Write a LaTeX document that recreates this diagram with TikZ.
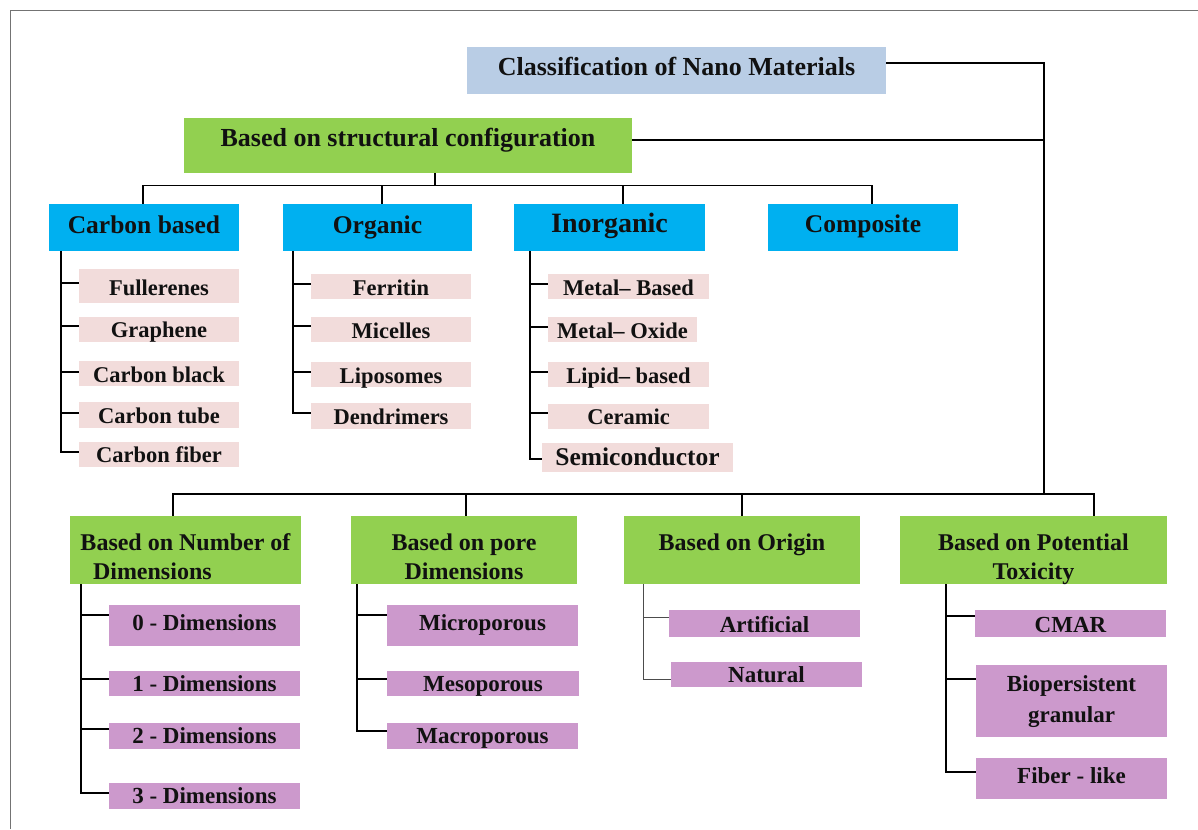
\documentclass[tikz,border=0pt]{standalone}
\usepackage{fontspec}
\setmainfont{Liberation Serif}
\definecolor{ctitle}{HTML}{B9CDE5}
\definecolor{cgreen}{HTML}{92D050}
\definecolor{ccyan}{HTML}{00B0F0}
\definecolor{cpink}{HTML}{F2DCDB}
\definecolor{cpurple}{HTML}{CC99CC}
\definecolor{ctext}{HTML}{111111}
\newcommand\mybox[8]{%
  \pgfmathsetmacro\bxw{#5-#3}%
  \pgfmathsetmacro\bxh{#6-#4}%
  \pgfmathsetmacro\bxcx{(#3+#5)/2}%
  \pgfmathsetmacro\bxcy{(#4+#6)/2}%
  \pgfmathsetmacro\bxr{\bxcy-#7}%
  \node[#2, minimum width=\bxw pt, minimum height=\bxh pt, inner sep=0pt] (#1) at (\bxcx,\bxcy)
    {\raisebox{\bxr pt}[0pt][0pt]{\parbox[b]{\bxw pt}{\centering #8}}};%
}
\begin{document}
\begin{tikzpicture}[x=1pt,y=-1pt,
  basebox/.style={rectangle, draw=none, text=ctext},
  titlebox/.style={basebox, fill=ctitle, font=\bfseries\fontsize{26}{30}\selectfont},
  structbox/.style={basebox, fill=cgreen, font=\bfseries\fontsize{26}{30}\selectfont},
  catbox/.style={basebox, fill=ccyan, font=\bfseries\fontsize{25.5}{30}\selectfont},
  bigcatbox/.style={catbox, font=\bfseries\fontsize{28}{32}\selectfont},
  pinkbox/.style={basebox, fill=cpink, font=\bfseries\fontsize{22.5}{27}\selectfont},
  bigpinkbox/.style={pinkbox, font=\bfseries\fontsize{25.5}{30}\selectfont},
  basisbox/.style={basebox, fill=cgreen, font=\bfseries\fontsize{24}{29}\selectfont},
  purplebox/.style={basebox, fill=cpurple, font=\bfseries\fontsize{23}{31}\selectfont},
  mainline/.style={line width=1.8pt, black},
  busline/.style={line width=1.2pt, black},
  childline/.style={line width=1.8pt, black},
  thinline/.style={line width=1pt, black!70},
  frameline/.style={line width=1pt, black!55}
]
\useasboundingbox (0,0) rectangle (1198,829);
\draw[frameline] (10,829) -- (10,11) -- (1198,11);

% top level
\mybox{title}{titlebox}{467}{47}{886}{94}{76}{Classification of Nano Materials}
\mybox{struct}{structbox}{184}{118}{632}{173}{147}{Based on structural configuration}

% structural categories
\mybox{cb}{catbox}{49}{204}{239}{251}{233}{Carbon based}
\mybox{org}{catbox}{283}{204}{472}{251}{233}{Organic}
\mybox{inorg}{bigcatbox}{514}{204}{705}{251}{232}{Inorganic}
\mybox{comp}{catbox}{768}{204}{958}{251}{232}{Composite}

% carbon children
\mybox{ful}{pinkbox}{79}{269}{239}{303}{295}{Fullerenes}
\mybox{gra}{pinkbox}{79}{317}{239}{342}{337}{Graphene}
\mybox{cbl}{pinkbox}{79}{361}{239}{386}{382}{Carbon black}
\mybox{ctu}{pinkbox}{79}{402}{239}{428}{423}{Carbon tube}
\mybox{cfi}{pinkbox}{79}{442}{239}{467}{462}{Carbon fiber}

% organic children
\mybox{fer}{pinkbox}{311}{274}{471}{299}{295}{Ferritin}
\mybox{mic}{pinkbox}{311}{317}{471}{342}{338}{Micelles}
\mybox{lip}{pinkbox}{311}{362}{471}{387}{383}{Liposomes}
\mybox{den}{pinkbox}{311}{403}{471}{429}{424}{Dendrimers}

% inorganic children
\mybox{mb}{pinkbox}{548}{274}{709}{299}{295}{Metal\textendash{} Based}
\mybox{mo}{pinkbox}{548}{317}{697}{342}{338}{Metal\textendash{} Oxide}
\mybox{lb}{pinkbox}{548}{362}{709}{387}{383}{Lipid\textendash{} based}
\mybox{cer}{pinkbox}{548}{404}{709}{429}{424}{Ceramic}
\mybox{semi}{bigpinkbox}{542}{443}{733}{472}{465}{Semiconductor}

% bottom bases
\mybox{ndim}{basisbox}{70}{516}{301}{584}{579}{Based on Number of\\\makebox[\linewidth][l]{\hspace*{23pt}Dimensions}}
\mybox{pore}{basisbox}{351}{516}{577}{584}{579}{Based on pore\\Dimensions}
\mybox{orig}{basisbox}{624}{516}{860}{584}{550}{Based on Origin}
\mybox{tox}{basisbox}{900}{516}{1167}{584}{579}{Based on Potential\\Toxicity}

% number of dimensions children
\mybox{d0}{purplebox}{109}{605}{300}{646}{630}{0 - Dimensions}
\mybox{d1}{purplebox}{109}{671}{300}{696}{691}{1 - Dimensions}
\mybox{d2}{purplebox}{109}{723}{300}{749}{743}{2 - Dimensions}
\mybox{d3}{purplebox}{109}{783}{300}{809}{803}{3 - Dimensions}

% pore children
\mybox{micro}{purplebox}{387}{605}{578}{646}{630}{Microporous}
\mybox{meso}{purplebox}{387}{671}{579}{696}{691}{Mesoporous}
\mybox{macro}{purplebox}{387}{723}{578}{749}{743}{Macroporous}

% origin children
\mybox{art}{purplebox}{669}{610}{860}{637}{632}{Artificial}
\mybox{nat}{purplebox}{671}{662}{862}{687}{682}{Natural}

% toxicity children
\mybox{cmar}{purplebox}{975}{610}{1166}{637}{632}{CMAR}
\mybox{bio}{purplebox}{976}{665}{1167}{737}{722}{Biopersistent\\granular}
\mybox{fib}{purplebox}{976}{758}{1167}{799}{783}{Fiber - like}

% trunk
\coordinate (trunk) at (1044,494);
\draw[mainline] ([yshift=7.5pt]title.east) -| (trunk);
\draw[mainline] ([yshift=5.5pt]struct.east) -- ([yshift=5.5pt]struct.east -| trunk);

% bottom bus
\draw[mainline] ([xshift=-12.5pt]ndim.north) |- (trunk) -| ([xshift=60.5pt]tox.north);
\draw[mainline] ([xshift=2pt]pore.north) -- ([xshift=2pt]pore.north |- trunk);
\draw[mainline] (orig.north) -- (orig.north |- trunk);

% structural bus
\draw[busline] ([xshift=-1pt]cb.north) -- ++(0,-18) -| ([xshift=9pt]comp.north);
\draw[busline] ([xshift=4.5pt]org.north) -- ++(0,-18);
\draw[busline] ([xshift=13.5pt]inorg.north) -- ++(0,-18);
\draw[busline] ([xshift=27pt]struct.south) -- ++(0,13);

% carbon tree
\coordinate (cbv) at ([xshift=12pt]cb.south west);
\draw[childline] (cbv) |- ([yshift=2.5pt]cfi.west);
\foreach \n/\s in {ful/3,gra/3.5,cbl/1.5,ctu/2}
  \draw[childline] ([yshift=\s pt]\n.west) -- ([yshift=\s pt]\n.west -| cbv);

% organic tree
\coordinate (orv) at ([xshift=10pt]org.south west);
\draw[childline] (orv) |- ([yshift=3pt]den.west);
\foreach \n/\s in {fer/2.5,mic/3.5,lip/2.5}
  \draw[childline] ([yshift=\s pt]\n.west) -- ([yshift=\s pt]\n.west -| orv);

% inorganic tree
\coordinate (inv) at ([xshift=16pt]inorg.south west);
\draw[childline] (inv) |- ([yshift=-1.5pt]semi.west);
\foreach \n/\s in {mb/2.5,mo/2.5,lb/2.5,cer/3.5}
  \draw[childline] ([yshift=\s pt]\n.west) -- ([yshift=\s pt]\n.west -| inv);

% number of dimensions tree
\coordinate (ndv) at ([xshift=11pt]ndim.south west);
\draw[childline] (ndv) |- ([yshift=3pt]d3.west);
\foreach \n/\s in {d0/10.5,d1/4.5,d2/7}
  \draw[childline] ([yshift=\s pt]\n.west) -- ([yshift=\s pt]\n.west -| ndv);

% pore tree
\coordinate (pov) at ([xshift=6pt]pore.south west);
\draw[childline] (pov) |- ([yshift=5pt]macro.west);
\foreach \n/\s in {micro/10.5,meso/4.5}
  \draw[childline] ([yshift=\s pt]\n.west) -- ([yshift=\s pt]\n.west -| pov);

% origin tree
\coordinate (oov) at ([xshift=20pt]orig.south west);
\draw[thinline] (oov) |- ([yshift=-4.5pt]nat.west);
\draw[thinline] ([yshift=6.5pt]art.west) -- ([yshift=6.5pt]art.west -| oov);

% toxicity tree
\coordinate (tov) at ([xshift=46pt]tox.south west);
\draw[childline] (tov) |- ([yshift=6.5pt]fib.west);
\foreach \n/\s in {cmar/7.5,bio/22}
  \draw[childline] ([yshift=\s pt]\n.west) -- ([yshift=\s pt]\n.west -| tov);
\end{tikzpicture}
\end{document}
